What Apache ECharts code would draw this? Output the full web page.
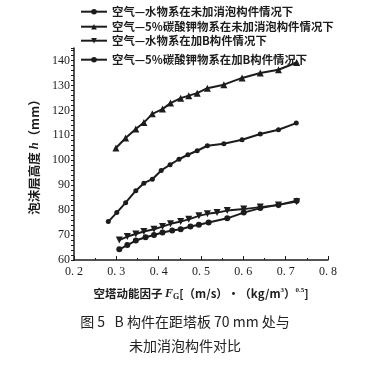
<!DOCTYPE html>
<html><head><meta charset="utf-8">
<script src="https://cdn.jsdelivr.net/npm/echarts@6/dist/echarts.min.js"></script>
<style>html,body{margin:0;padding:0;background:#fff}#c{width:370px;height:367px}</style>
</head><body><div id="c"></div>
<script>
const seriesNames = [
  '空气—水物系在未加消泡构件情况下',
  '空气—5%碳酸钾物系在未加消泡构件情况下',
  '空气—水物系在加B构件情况下',
  '空气—5%碳酸钾物系在加B构件情况下'
];
const xTickLabels = ['0. 2','0. 3','0. 4','0. 5','0. 6','0. 7','0. 8'];
const yTickLabels = [60,70,80,90,100,110,120,130,140];
// Series 1: air-water, no defoaming component
const x1 = [0.281,0.301,0.322,0.346,0.365,0.385,0.406,0.427,0.448,0.469,0.491,0.515,0.554,0.597,0.640,0.683,0.725];
const y1 = [75.4,79.0,83.0,87.8,90.8,92.4,95.9,98.2,100.4,102.2,103.8,105.8,106.6,108.2,110.5,112.2,114.9];
// Series 2: air-5% K2CO3, no defoaming component
const x2 = [0.299,0.322,0.346,0.365,0.385,0.409,0.428,0.452,0.471,0.491,0.515,0.554,0.597,0.640,0.683,0.726];
const y2 = [104.9,108.9,112.5,115.1,118.6,120.5,122.9,124.9,125.9,126.9,128.9,130.3,133.0,135.0,136.3,139.2];
// Series 3: air-water, with B component
const x3 = [0.307,0.326,0.346,0.365,0.389,0.409,0.428,0.452,0.471,0.495,0.515,0.538,0.562,0.601,0.640,0.683,0.726];
const y3 = [68.0,69.4,70.4,71.4,72.3,73.4,74.5,75.4,76.3,77.7,78.5,79.0,79.8,80.4,81.2,82.1,83.4];
// Series 4: air-5% K2CO3, with B component
const x4 = [0.307,0.326,0.346,0.369,0.389,0.409,0.432,0.452,0.475,0.495,0.518,0.562,0.601,0.640,0.683,0.726];
const y4 = [64.3,66.0,67.8,69.1,70.0,71.0,71.8,72.3,73.4,74.1,75.0,76.7,79.0,80.8,82.1,83.8];

const xs = [x1,x2,x3,x4], ys = [y1,y2,y3,y4];
const symbols = ['circle','triangle','path://M0,0 L10,0 L5,9 Z','circle'];
const sizes = [5,7,7,6];
const ink = '#1c1c1c';
const serif = '"Liberation Serif","DejaVu Serif",serif';
const cjk = '"Noto Sans CJK SC",sans-serif';

const chart = echarts.init(document.getElementById('c'), null, {renderer:'canvas'});
const legendTops = [6, 21, 35, 54];
chart.setOption({
  backgroundColor:'#fff',
  animation:false,
  grid:{left:74, right:42, top:48, bottom:107},
  legend: seriesNames.map((n,i)=>({
    data:[n], orient:'vertical', left:80, top:legendTops[i],
    itemWidth:26, itemHeight:7, itemGap:2, padding:0,
    textStyle:{fontFamily:cjk, fontWeight:'bold', fontSize:11.4, color:ink}
  })),
  xAxis:{
    type:'value', min:0.2, max:0.8, interval:0.1,
    axisLine:{lineStyle:{color:ink, width:1.5}},
    axisTick:{inside:true, length:4, lineStyle:{color:ink}},
    minorTick:{show:true, splitNumber:2, length:2, lineStyle:{color:ink}},
    splitLine:{show:false},
    axisLabel:{color:ink, fontFamily:serif, fontSize:12, margin:6,
      formatter:(v)=>{const i=Math.round((v-0.2)*10); return xTickLabels[i]||'';}},
    name:'空塔动能因子 {i|F}{sub|G}[（m/s）·（kg/m{sup|3}）{sup|0.5}]',
    nameLocation:'middle', nameGap:27,
    nameTextStyle:{fontFamily:cjk, fontWeight:'bold', fontSize:11.5, color:ink,
      rich:{i:{fontFamily:serif, fontStyle:'italic', fontSize:12, color:ink},
            sub:{fontFamily:serif, fontSize:8, verticalAlign:'bottom', padding:[6,0,0,0], color:ink},
            sup:{fontFamily:serif, fontSize:7, verticalAlign:'top', padding:[0,0,6,0], color:ink}}}
  },
  yAxis:{
    type:'value', min:60, max:145, interval:10,
    axisLine:{show:true, lineStyle:{color:ink, width:1.5}},
    axisTick:{show:true, length:3, lineStyle:{color:ink}},
    minorTick:{show:true, splitNumber:5, length:3, lineStyle:{color:ink}},
    splitLine:{show:false},
    axisLabel:{color:ink, fontFamily:serif, fontSize:12, margin:4,
      formatter:(v)=> yTickLabels.indexOf(Math.round(v))>=0 && Math.abs(v-Math.round(v))<1e-6 && Math.round(v)%10===0 ? String(Math.round(v)) : ''},
    name:'泡沫层高度 {i|h}（mm）', nameLocation:'middle', nameGap:33, nameRotate:90,
    nameTextStyle:{fontFamily:cjk, fontWeight:'bold', fontSize:12.5, color:ink,
      rich:{i:{fontFamily:serif, fontStyle:'italic', fontSize:12.5, color:ink}}}
  },
  series: seriesNames.map((n,i)=>({
    name:n, type:'line', data: xs[i].map((x,j)=>[x, ys[i][j]]),
    symbol:symbols[i], symbolSize:sizes[i], showSymbol:true,
    lineStyle:{color:ink, width:2}, itemStyle:{color:ink}, color:ink
  })),
  graphic:[
    {type:'text', left:'center', top:315, style:{text:'图 5   B 构件在距塔板 70 mm 处与', fontFamily:cjk, fontSize:14, fill:'#222'}},
    {type:'text', left:'center', top:339, style:{text:'未加消泡构件对比', fontFamily:cjk, fontSize:14, fill:'#222'}}
  ]
});
</script></body></html>
